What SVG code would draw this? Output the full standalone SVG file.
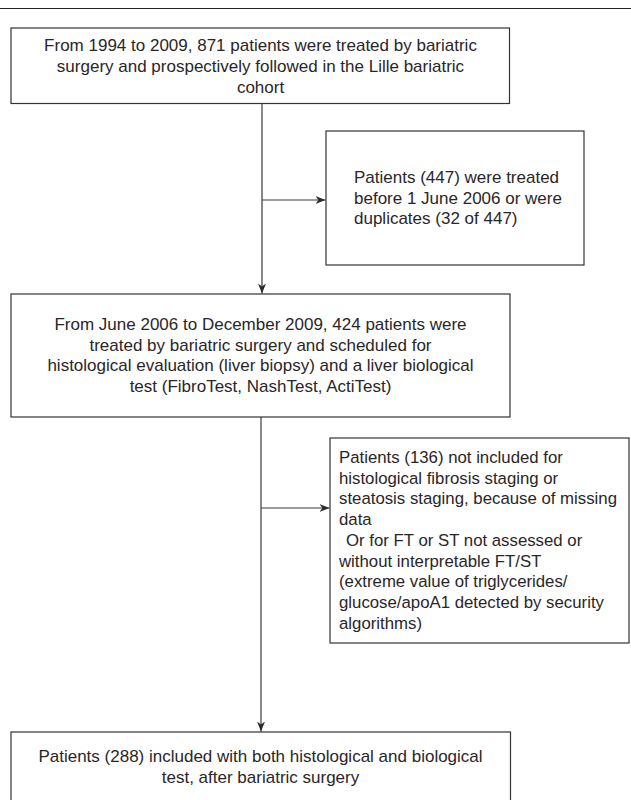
<svg xmlns="http://www.w3.org/2000/svg" width="631" height="800" viewBox="0 0 631 800">
  <style>
    .box { fill: #ffffff; stroke: #333333; stroke-width: 1.2; }
    .t { font-family: "Liberation Sans", Arial, sans-serif; font-size: 17px; fill: #2a2627; }
    .s { font-size: 16.8px; }
    .c { text-anchor: middle; }
    .conn { stroke: #3a3a3a; stroke-width: 1.2; fill: none; }
  </style>
  <defs>
    <marker id="arrow" markerUnits="userSpaceOnUse" markerWidth="10" markerHeight="8" refX="10" refY="4" orient="auto">
      <path d="M0,0 L10,4 L0,8 L3,4 Z" fill="#2a2a2a"/>
    </marker>
  </defs>
  <rect width="631" height="800" fill="#ffffff"/>
  <line x1="0" y1="8.5" x2="631" y2="8.5" stroke="#222222" stroke-width="1.2"/>

  <g id="connectors">
    <line class="conn" x1="262" y1="104" x2="262" y2="293.5" marker-end="url(#arrow)"/>
    <line class="conn" x1="262" y1="200" x2="325.5" y2="200" marker-end="url(#arrow)"/>
    <line class="conn" x1="261" y1="417" x2="261" y2="731.5" marker-end="url(#arrow)"/>
    <line class="conn" x1="261" y1="508" x2="329.5" y2="508" marker-end="url(#arrow)"/>
  </g>

  <g id="node-cohort">
    <rect class="box" x="11" y="28" width="498.5" height="75.5"/>
    <text class="t c" x="260.5" y="50.5">From 1994 to 2009, 871 patients were treated by bariatric</text>
    <text class="t c" x="260.5" y="71.5">surgery and prospectively followed in the Lille bariatric</text>
    <text class="t c" x="260.5" y="92.5">cohort</text>
  </g>

  <g id="node-excluded-447">
    <rect class="box" x="326" y="131" width="258" height="134"/>
    <text class="t" x="354" y="183">Patients (447) were treated</text>
    <text class="t" x="354" y="203.5">before 1 June 2006 or were</text>
    <text class="t" x="354" y="224">duplicates (32 of 447)</text>
  </g>

  <g id="node-scheduled-424">
    <rect class="box" x="11" y="294" width="499" height="123"/>
    <text class="t c" x="260.5" y="330">From June 2006 to December 2009, 424 patients were</text>
    <text class="t c" x="260.5" y="350.6">treated by bariatric surgery and scheduled for</text>
    <text class="t c" x="260.5" y="371.2">histological evaluation (liver biopsy) and a liver biological</text>
    <text class="t c" x="260.5" y="391.8">test (FibroTest, NashTest, ActiTest)</text>
  </g>

  <g id="node-excluded-136">
    <rect class="box" x="330" y="438" width="299" height="205"/>
    <text class="t s" x="339" y="463">Patients (136) not included for</text>
    <text class="t s" x="339" y="483.7">histological fibrosis staging or</text>
    <text class="t s" x="339" y="504.4">steatosis staging, because of missing</text>
    <text class="t s" x="339" y="525.1">data</text>
    <text class="t s" x="346" y="545.8">Or for FT or ST not assessed or</text>
    <text class="t s" x="339" y="566.5">without interpretable FT/ST</text>
    <text class="t s" x="339" y="587.2">(extreme value of triglycerides/</text>
    <text class="t s" x="339" y="607.9">glucose/apoA1 detected by security</text>
    <text class="t s" x="339" y="628.6">algorithms)</text>
  </g>

  <g id="node-included-288">
    <rect class="box" x="11" y="732" width="499.5" height="80"/>
    <text class="t c" x="260.5" y="762">Patients (288) included with both histological and biological</text>
    <text class="t c" x="260.5" y="783">test, after bariatric surgery</text>
  </g>
</svg>
